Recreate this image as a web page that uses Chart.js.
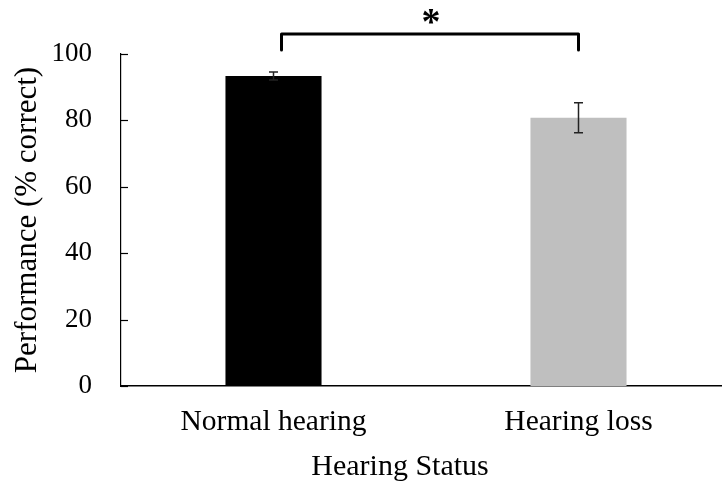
<!DOCTYPE html>
<html>
<head>
<meta charset="utf-8">
<script src="https://cdn.jsdelivr.net/npm/chart.js@4.4.1/dist/chart.umd.min.js"></script>
<style>
  html, body { margin: 0; padding: 0; background: #fff; overflow: hidden; }
  #wrap { width: 732px; height: 484px; }
</style>
</head>
<body>
<div id="wrap"><canvas id="chart" width="732" height="484"></canvas></div>
<script>
// Group labels and mean scores with their error bars
const categories = ['Normal hearing', 'Hearing loss'];
const meanScores = [93.4, 80.8];
const errorSizes = [1.2, 4.5];
const barColors = ['#000000', '#bfbfbf'];
const yTicks = [0, 20, 40, 60, 80, 100];

// Significance bracket between the two groups
const bracketLevel = 106;
const bracketDrop = 4.8;
const starLevel = 110.5;
const starText = '*';

const xTitle = 'Hearing Status';
const yTitle = 'Performance (% correct)';

const SERIF = '"Liberation Serif", "Times New Roman", serif';

const decorations = {
  id: 'decorations',
  afterDatasetsDraw(chart) {
    const ctx = chart.ctx;
    const x = chart.scales.x, y = chart.scales.y;
    const area = chart.chartArea;
    ctx.save();

    // inward tick marks on the value axis
    ctx.strokeStyle = '#000';
    ctx.lineWidth = 1.2;
    yTicks.forEach(v => {
      const py = Math.round(y.getPixelForValue(v)) + 0.5;
      ctx.beginPath();
      ctx.moveTo(area.left, py);
      ctx.lineTo(area.left + 7, py);
      ctx.stroke();
    });

    // error bars
    ctx.lineWidth = 1.5;
    meanScores.forEach((m, i) => {
      const px = x.getPixelForValue(i);
      const top = y.getPixelForValue(m + errorSizes[i]);
      const bot = y.getPixelForValue(m - errorSizes[i]);
      ctx.strokeStyle = '#222';
      ctx.beginPath();
      ctx.moveTo(px, top); ctx.lineTo(px, bot);
      ctx.moveTo(px - 4.5, top); ctx.lineTo(px + 4.5, top);
      ctx.moveTo(px - 4.5, bot); ctx.lineTo(px + 4.5, bot);
      ctx.stroke();
    });

    // significance bracket and star
    const x0 = x.getPixelForValue(0) + 8;
    const x1 = x.getPixelForValue(1);
    const by = y.getPixelForValue(bracketLevel);
    const bd = y.getPixelForValue(bracketLevel - bracketDrop);
    ctx.strokeStyle = '#000';
    ctx.lineWidth = 3;
    ctx.lineJoin = 'round';
    ctx.lineCap = 'round';
    ctx.beginPath();
    ctx.moveTo(x0, bd); ctx.lineTo(x0, by); ctx.lineTo(x1, by); ctx.lineTo(x1, bd);
    ctx.stroke();

    ctx.fillStyle = '#000';
    ctx.font = 'bold 38px ' + SERIF;
    ctx.textAlign = 'center';
    ctx.textBaseline = 'middle';
    ctx.fillText(starText, (x0 + x1) / 2 + 1, y.getPixelForValue(starLevel) + 5);

    // horizontal axis title
    ctx.font = '30px ' + SERIF;
    ctx.textBaseline = 'alphabetic';
    ctx.fillText(xTitle, 400, 475);
    ctx.restore();
  }
};

new Chart(document.getElementById('chart'), {
  type: 'bar',
  data: {
    labels: categories,
    datasets: [{
      data: meanScores,
      backgroundColor: barColors,
      borderWidth: 0,
      barPercentage: 0.63,
      categoryPercentage: 0.5
    }]
  },
  options: {
    responsive: false,
    animation: false,
    layout: { padding: { top: 54, right: 1, left: 0, bottom: 0 } },
    plugins: { legend: { display: false }, tooltip: { enabled: false } },
    scales: {
      x: {
        grid: { display: false, drawTicks: false },
        border: { display: true, color: '#000', width: 1.5 },
        ticks: { color: '#000', font: { family: SERIF, size: 29.5 }, padding: 19 },
        afterFit(scale) { scale.height = 98; }
      },
      y: {
        min: 0, max: 100,
        grid: { display: false, drawTicks: false },
        border: { display: true, color: '#000', width: 1.2 },
        ticks: { stepSize: 20, color: '#000', font: { family: SERIF, size: 27 }, padding: 29 },
        title: { display: true, text: yTitle, color: '#000', font: { family: SERIF, size: 31 }, padding: { top: 9, bottom: 0 } },
        afterFit(scale) { scale.width = 121; }
      }
    }
  },
  plugins: [decorations]
});
</script>
</body>
</html>
